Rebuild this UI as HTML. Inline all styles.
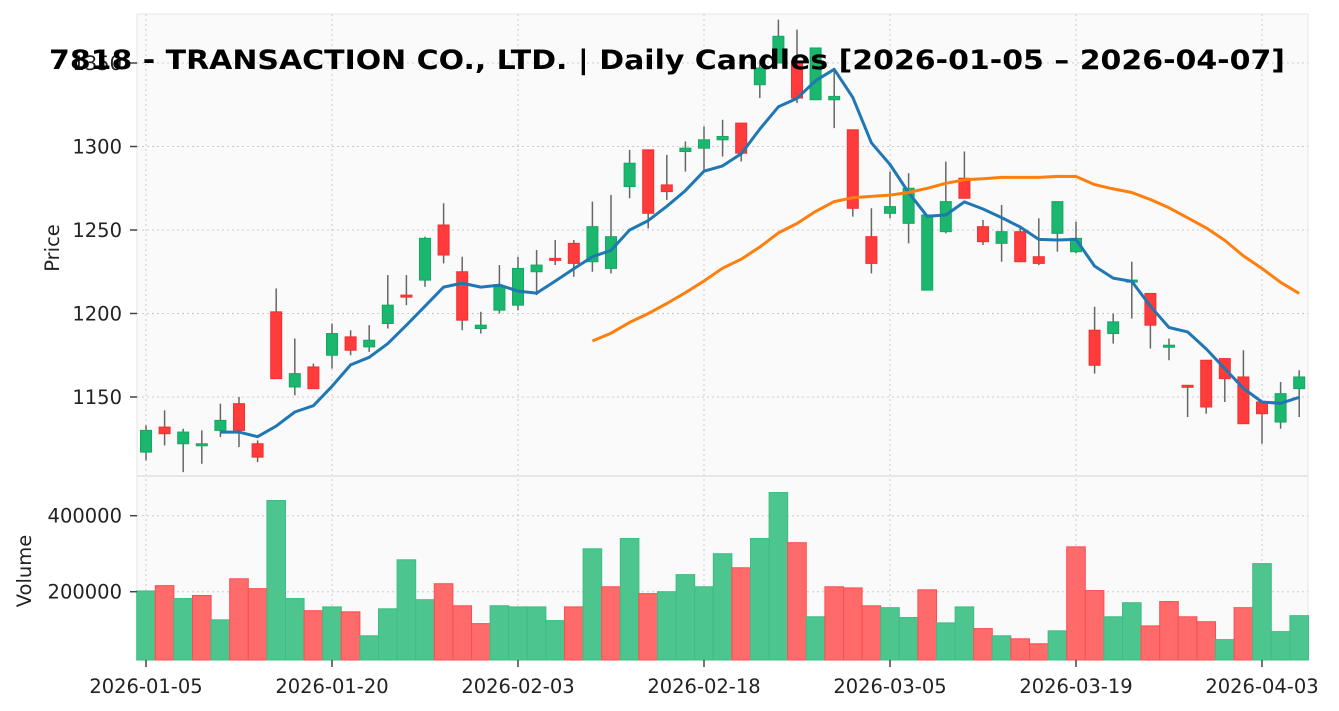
<!DOCTYPE html>
<html><head><meta charset="utf-8"><style>
body{margin:0;background:#fff;}
svg{display:block;font-family:"DejaVu Sans","Liberation Sans",sans-serif;}
</style></head><body>
<svg id="chart" width="1339" height="711">
<rect x="137" y="14" width="1171" height="646" fill="#fafafa" stroke="#e6e6e6"/>
<g id="grid"></g><g id="vol"></g><g id="candles"></g><g id="ma"></g><g id="axes"></g>
<line x1="137" y1="476" x2="1308" y2="476" stroke="#e6e6e6" stroke-width="2"/>
<text x="49" y="69" textLength="1236" lengthAdjust="spacingAndGlyphs" font-size="27" font-weight="bold" fill="#000">7818 - TRANSACTION CO., LTD. | Daily Candles [2026-01-05 – 2026-04-07]</text>
<text transform="translate(59,248) rotate(-90)" text-anchor="middle" font-size="19.5" fill="#222">Price</text>
<text transform="translate(31,571) rotate(-90)" text-anchor="middle" font-size="19.5" fill="#222">Volume</text>
</svg>
<script>
const opens=[1117,1132,1122,1121,1130,1146,1122,1201,1156,1168,1175,1186,1180,1194,1211,1220,1253,1225,1191,1202,1205,1225,1233,1242,1231,1227,1276,1298,1277,1297,1299,1304,1314,1337,1350,1351,1328,1328,1310,1246,1260,1254,1214,1249,1281,1252,1242,1249,1234,1248,1237,1190,1188,1219,1212,1180,1157,1172,1173,1162,1147,1135,1155];
const highs=[1133,1142,1131,1130,1146,1150,1124,1215,1185,1170,1194,1190,1193,1223,1223,1246,1266,1234,1201,1229,1234,1238,1244,1244,1267,1271,1298,1298,1295,1303,1312,1316,1314,1352,1376,1370,1359,1347,1310,1263,1285,1284,1259,1291,1297,1256,1265,1252,1257,1267,1255,1204,1200,1231,1212,1185,1157,1172,1173,1178,1147,1159,1166];
const lows=[1112,1121,1105,1110,1126,1120,1111,1161,1151,1155,1167,1175,1177,1191,1205,1216,1230,1190,1188,1200,1202,1211,1229,1222,1225,1224,1269,1251,1268,1285,1286,1294,1291,1329,1350,1326,1328,1311,1258,1224,1257,1242,1214,1248,1269,1241,1231,1231,1229,1237,1236,1164,1182,1197,1179,1172,1138,1140,1147,1134,1122,1131,1138];
const closes=[1130,1128,1129,1122,1136,1130,1114,1161,1164,1155,1188,1178,1184,1205,1210,1245,1235,1196,1193,1216,1227,1229,1232,1230,1252,1246,1290,1260,1273,1299,1304,1306,1296,1347,1366,1329,1359,1330,1263,1230,1264,1275,1259,1267,1269,1243,1249,1231,1230,1267,1245,1169,1195,1220,1193,1181,1156,1144,1161,1134,1140,1152,1162];
const volumes=[202000,216000,182000,190000,126000,234000,208000,440000,182000,150000,160000,147000,84000,155000,284000,179000,221000,163000,116000,163000,160000,160000,124000,160000,313000,213000,340000,195000,200000,245000,213000,300000,263000,340000,461000,329000,134000,213000,210000,163000,158000,132000,205000,118000,160000,103000,84000,76000,63000,97000,318000,203000,134000,171000,110000,174000,134000,121000,74000,158000,274000,95000,137000];
const tickIdx=[0,10,20,30,40,50,60];
const tickLabels=["2026-01-05","2026-01-20","2026-02-03","2026-02-18","2026-03-05","2026-03-19","2026-04-03"];
const priceTicks=[1150,1200,1250,1300,1350];
const volTicks=[200000,400000];

const NS="http://www.w3.org/2000/svg";
const X=i=>146+i*18.6;
const PY=p=>397-(p-1150)*83.5/50;
const VY=v=>667.7-v*76/200000;
function mk(tag,attrs,parent){const e=document.createElementNS(NS,tag);for(const k in attrs)e.setAttribute(k,attrs[k]);document.getElementById(parent).appendChild(e);return e;}
const G="#1bb76e",R="#ff3b3b";
tickIdx.forEach((t,k)=>{
  const l=mk('line',{x1:X(t),x2:X(t),y1:14,y2:660,stroke:'#cccccc','stroke-dasharray':'2,3'},'grid');
  
  
  const tm=mk('line',{x1:X(t),x2:X(t),y1:660,y2:667,stroke:'#444','stroke-width':1.5},'axes');
  
  
  const tx=mk('text',{x:X(t),y:693,'text-anchor':'middle','font-size':19.5,fill:'#222'},'axes');
  tx.textContent=tickLabels[k];
  
  
});
priceTicks.forEach(p=>{
  const l=mk('line',{x1:137,x2:1308,y1:PY(p),y2:PY(p),stroke:'#cccccc','stroke-dasharray':'2,3'},'grid');
  
  
  const tm=mk('line',{x1:130,x2:137,y1:PY(p),y2:PY(p),stroke:'#444','stroke-width':1.5},'axes');
  
  
  const tx=mk('text',{x:122,y:PY(p)+7,'text-anchor':'end','font-size':19.5,fill:'#222'},'axes');
  tx.textContent=p;
  
  
});
volTicks.forEach(v=>{
  const l=mk('line',{x1:137,x2:1308,y1:VY(v),y2:VY(v),stroke:'#cccccc','stroke-dasharray':'2,3'},'grid');
  
  
  const tm=mk('line',{x1:130,x2:137,y1:VY(v),y2:VY(v),stroke:'#444','stroke-width':1.5},'axes');
  
  
  const tx=mk('text',{x:122,y:VY(v)+7,'text-anchor':'end','font-size':19.5,fill:'#222'},'axes');
  tx.textContent=v;
  
  
});
volumes.forEach((v,i)=>{
  const up=i===0?true:closes[i]>=closes[i-1];
  const y=Math.max(VY(v),476);
  const b=mk('rect',{x:X(i)-9.3,y:y,width:18.6,height:660-y,fill:up?'#4cc58e':'#ff6b6b',stroke:up?'#3dbd83':'#ff4d4d'},'vol');
  
  
});
opens.forEach((o,i)=>{
  const c=closes[i],up=c>=o;
  const w=mk('line',{x1:X(i),x2:X(i),y1:PY(highs[i]),y2:PY(lows[i]),stroke:'#666','stroke-width':1.5},'candles');
  
  
  const top=PY(Math.max(o,c)),bot=PY(Math.min(o,c));
  const b=mk('rect',{x:X(i)-5.5,y:top,width:11,height:Math.max(bot-top,2),fill:up?G:R,stroke:up?'#12a862':'#f03030','stroke-width':1},'candles');
  
  
});
function ma(n,color,name){
  let pts=[];
  for(let i=n-1;i<closes.length;i++){let s=0;for(let j=i-n+1;j<=i;j++)s+=closes[j];pts.push(X(i).toFixed(1)+','+PY(s/n).toFixed(1));}
  const p=mk('polyline',{points:pts.join(' '),fill:'none',stroke:color,'stroke-width':3,'stroke-linejoin':'round'},'ma');
  
  
}
ma(5,'#1f77b4','ma5-line');
ma(25,'#ff7f0e','ma25-line');
</script>
</body></html>
